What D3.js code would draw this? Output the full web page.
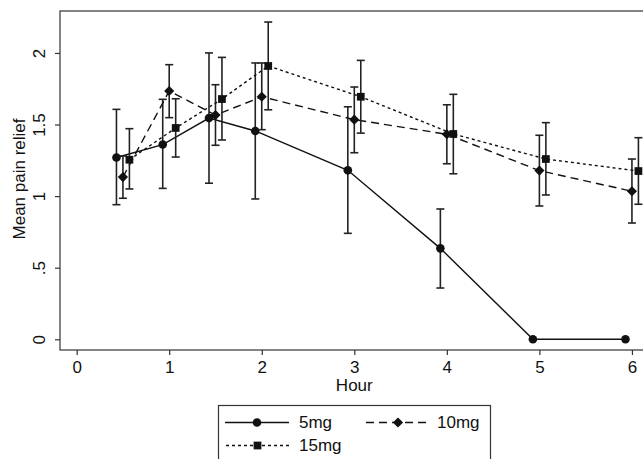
<!DOCTYPE html>
<html>
<head>
<meta charset="utf-8">
<script src="https://cdn.jsdelivr.net/npm/d3@7"></script>
<style>
  html, body { margin: 0; padding: 0; background: #fff; }
  svg text { font-family: "Liberation Sans", Arial, sans-serif; fill: #111; }
</style>
</head>
<body>
<svg id="chart" width="643" height="459"></svg>
<script>
// ---- data ----
const hours = [0.5, 1, 1.5, 2, 3, 4, 5, 6];
const xTicks = [0, 1, 2, 3, 4, 5, 6];
const yTicks = [0, 0.5, 1, 1.5, 2];
const yTickLabels = ['0', '.5', '1', '1.5', '2'];

const mean5  = [1.27, 1.36, 1.545, 1.455, 1.18, 0.635, 0, 0];
const lo5    = [0.94, 1.054, 1.09, 0.98, 0.74, 0.358, null, null];
const hi5    = [1.606, 1.676, 2.0, 1.93, 1.624, 0.91, null, null];

const mean10 = [1.133, 1.734, 1.566, 1.694, 1.534, 1.432, 1.178, 1.034];
const lo10   = [0.985, 1.548, 1.355, 1.464, 1.303, 1.226, 0.931, 0.812];
const hi10   = [1.28, 1.918, 1.778, 1.93, 1.762, 1.638, 1.425, 1.259];

const mean15 = [1.254, 1.476, 1.678, 1.909, 1.694, 1.434, 1.259, 1.175];
const lo15   = [1.05, 1.273, 1.392, 1.603, 1.44, 1.156, 1.008, 0.943];
const hi15   = [1.471, 1.68, 1.969, 2.216, 1.948, 1.711, 1.513, 1.408];

const seriesNames = ['5mg', '10mg', '15mg'];
const dodge = [-0.07, 0, 0.07];   // hours are shifted a little per dose

const series = [
    { name: seriesNames[0], mean: mean5,  lo: lo5,  hi: hi5,  dx: dodge[0], dash: null,  symbol: 'circle' },
    { name: seriesNames[1], mean: mean10, lo: lo10, hi: hi10, dx: dodge[1], dash: '8 5', symbol: 'diamond' },
    { name: seriesNames[2], mean: mean15, lo: lo15, hi: hi15, dx: dodge[2], dash: '3 3', symbol: 'square' },
];

// ---- layout ----
const svg = d3.select('#chart');
const INK = '#111';
const FS = 17;

const x = d3.scaleLinear().domain([-0.18, 6.3]).range([60, 659.7]);
const y = d3.scaleLinear().domain([-0.075, 2.293]).range([350, 11]);

// plot region outline (right edge falls outside the picture)
svg.append('rect')
    .attr('x', x.range()[0]).attr('y', y.range()[1])
    .attr('width', x.range()[1] - x.range()[0])
    .attr('height', y.range()[0] - y.range()[1])
    .attr('fill', 'none').attr('stroke', '#333').attr('stroke-width', 1.2);

// Y axis
const yAxis = svg.append('g')
    .attr('transform', `translate(${x.range()[0]},0)`)
    .call(d3.axisLeft(y).tickValues(yTicks).tickSize(5).tickPadding(0)
        .tickFormat((d, i) => yTickLabels[i]))
    .call(ax => ax.select('.domain').remove());
yAxis.selectAll('.tick line').attr('stroke', '#333').attr('stroke-width', 1.2);
yAxis.selectAll('.tick text')
    .attr('x', 0).attr('dy', 0)
    .attr('transform', 'translate(-21,0) rotate(-90)')
    .attr('text-anchor', 'middle')
    .attr('dominant-baseline', 'central')
    .attr('font-size', FS).attr('fill', INK);

// X axis
const xAxis = svg.append('g')
    .attr('transform', `translate(0,${y.range()[0]})`)
    .call(d3.axisBottom(x).tickValues(xTicks).tickSize(5).tickPadding(6)
        .tickFormat(d3.format('d')))
    .call(ax => ax.select('.domain').remove());
xAxis.selectAll('.tick line').attr('stroke', '#333').attr('stroke-width', 1.2);
xAxis.selectAll('.tick text').attr('font-size', FS).attr('fill', INK);

// axis titles
svg.append('text')
    .attr('x', x(3)).attr('y', 391)
    .attr('text-anchor', 'middle').attr('font-size', FS)
    .text('Hour');
svg.append('text')
    .attr('transform', `translate(19,179) rotate(-90)`)
    .attr('text-anchor', 'middle').attr('dominant-baseline', 'central')
    .attr('font-size', FS)
    .text('Mean pain relief');

// ---- marks ----
const symbolOf = {
    circle:  d3.symbol().type(d3.symbolCircle).size(58),
    diamond: d3.symbol().type(d3.symbolSquare).size(52),
    square:  d3.symbol().type(d3.symbolSquare).size(60),
};
function drawSymbol(g, kind, cx, cy) {
    g.append('path')
        .attr('d', symbolOf[kind]())
        .attr('transform', `translate(${cx},${cy})` + (kind === 'diamond' ? ' rotate(45)' : ''))
        .attr('fill', INK);
}

const line = d3.line()
    .x(d => x(d.h))
    .y(d => y(d.v));

series.forEach(s => {
    const pts = hours.map((h, i) => ({ h: h + s.dx, v: s.mean[i], lo: s.lo[i], hi: s.hi[i] }));
    const g = svg.append('g');

    g.append('path')
        .datum(pts)
        .attr('fill', 'none')
        .attr('stroke', INK)
        .attr('stroke-width', 1.4)
        .attr('stroke-dasharray', s.dash)
        .attr('d', line);

    // error bars with caps
    const cap = 4;
    pts.filter(p => p.lo != null).forEach(p => {
        const cx = x(p.h);
        g.append('line')
            .attr('x1', cx).attr('x2', cx)
            .attr('y1', y(p.lo)).attr('y2', y(p.hi))
            .attr('stroke', '#222').attr('stroke-width', 1.6);
        [p.lo, p.hi].forEach(v => {
            g.append('line')
                .attr('x1', cx - cap).attr('x2', cx + cap)
                .attr('y1', y(v)).attr('y2', y(v))
                .attr('stroke', '#222').attr('stroke-width', 1.6);
        });
    });

    pts.forEach(p => drawSymbol(g, s.symbol, x(p.h), y(p.v)));
});

// ---- legend ----
const leg = svg.append('g');
leg.append('rect')
    .attr('x', 218.5).attr('y', 405.5)
    .attr('width', 272).attr('height', 70)
    .attr('fill', '#fff').attr('stroke', '#333').attr('stroke-width', 1.2);

const legendSlots = [
    { x1: 225, x2: 289, row: 422.5, tx: 299 },
    { x1: 366, x2: 430, row: 422.5, tx: 437 },
    { x1: 226, x2: 289, row: 445.5, tx: 299 },
];
series.forEach((s, i) => {
    const slot = legendSlots[i];
    leg.append('line')
        .attr('x1', slot.x1).attr('x2', slot.x2)
        .attr('y1', slot.row).attr('y2', slot.row)
        .attr('stroke', INK).attr('stroke-width', 1.4)
        .attr('stroke-dasharray', s.dash);
    drawSymbol(leg, s.symbol, (slot.x1 + slot.x2) / 2, slot.row);
    leg.append('text')
        .attr('x', slot.tx).attr('y', slot.row)
        .attr('dominant-baseline', 'central')
        .attr('font-size', FS)
        .text(s.name);
});
</script>
</body>
</html>
